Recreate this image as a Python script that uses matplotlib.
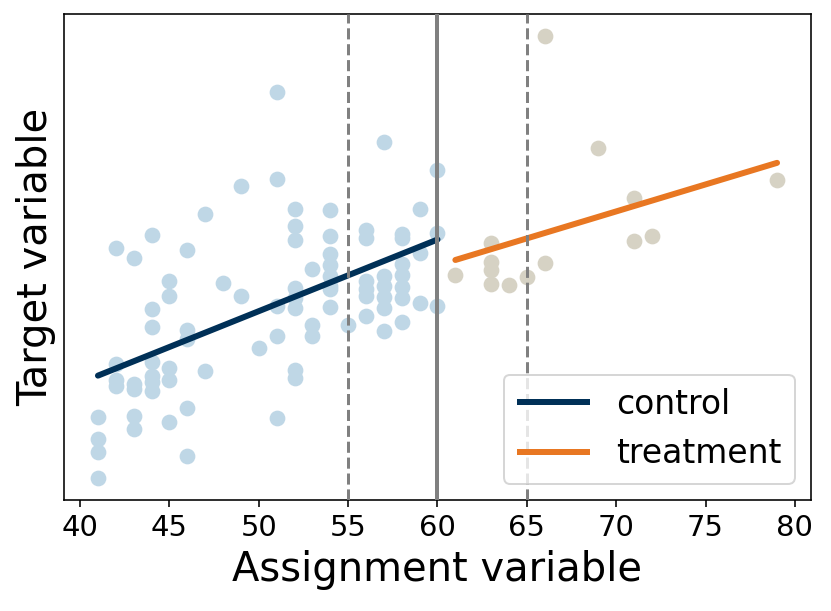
import numpy as np
import matplotlib
matplotlib.use("Agg")
import matplotlib.pyplot as plt

# ---- data (assignment variable x, target variable y) ----
control_x = [41, 41, 41, 41,
             42, 42, 42, 42,
             43, 43, 43, 43, 43,
             44, 44, 44, 44, 44, 44, 44,
             45, 45, 45, 45, 45,
             46, 46, 46, 46, 46,
             47, 47,
             48,
             49, 49,
             50,
             51, 51, 51, 51, 51,
             52, 52, 52, 52, 52, 52, 52, 52,
             53, 53, 53,
             54, 54, 54, 54, 54, 54, 54, 54,
             55,
             56, 56, 56, 56, 56, 56,
             57, 57, 57, 57, 57, 57,
             58, 58, 58, 58, 58, 58, 58,
             59, 59, 59,
             60, 60, 60]
control_y = [8.2, 6.0, 4.7, 2.1,
             25.0, 13.5, 11.9, 11.3,
             24.1, 11.5, 11.0, 8.3, 7.0,
             26.3, 19.0, 17.2, 13.7, 12.3, 11.7, 10.8,
             21.8, 20.3, 13.1, 11.9, 7.7,
             24.8, 16.9, 16.0, 9.1, 4.3,
             28.4, 12.8,
             21.6,
             31.2, 20.3,
             15.1,
             40.6, 31.9, 19.3, 16.3, 8.1,
             28.9, 27.2, 25.8, 21.1, 20.1, 19.1, 12.9, 12.1,
             23.0, 17.4, 16.3,
             28.8, 26.2, 24.4, 23.4, 22.3, 21.3, 21.0, 19.2,
             17.4,
             26.8, 26.0, 21.8, 21.0, 20.3, 18.3,
             35.6, 22.3, 21.3, 20.2, 19.1, 16.8,
             26.4, 26.0, 23.5, 22.4, 21.2, 20.1, 17.7,
             28.9, 24.5, 19.6,
             32.8, 26.5, 19.3]

treatment_x = [61, 63, 63, 63, 63, 64, 65, 66, 66, 69, 71, 71, 72, 79]
treatment_y = [22.4, 25.5, 23.7, 22.9, 21.5, 21.4, 22.2, 46.2, 23.6,
               35.0, 30.0, 25.7, 26.2, 31.8]

x_ticks = [40, 45, 50, 55, 60, 65, 70, 75, 80]
cutoff = 60
bandwidth = [55, 65]
x_label = "Assignment variable"
y_label = "Target variable"
legend_labels = ["control", "treatment"]

# ---- colours ----
c_ctrl_pts = "#bfd7e6"
c_treat_pts = "#d6d2c4"
c_ctrl_line = "#003057"
c_treat_line = "#e87722"

W, H, DPI = 831, 611, 144
fig = plt.figure(figsize=(W / DPI, H / DPI), dpi=DPI)
ax = fig.add_axes([64 / W, (H - 500) / H, (811 - 64) / W, (500 - 14) / H])

ax.scatter(control_x, control_y, s=62, color=c_ctrl_pts, linewidths=0, zorder=2)
ax.scatter(treatment_x, treatment_y, s=62, color=c_treat_pts, linewidths=0, zorder=2)

# linear fits
cx = np.array(control_x, dtype=float)
cy = np.array(control_y, dtype=float)
tx = np.array(treatment_x, dtype=float)
ty = np.array(treatment_y, dtype=float)
pc = np.polyfit(cx, cy, 1)
pt = np.polyfit(tx, ty, 1)
xc = np.array([cx.min(), cx.max()])
xt = np.array([tx.min(), tx.max()])
ax.plot(xc, np.polyval(pc, xc), color=c_ctrl_line, lw=3, solid_capstyle="round",
        label=legend_labels[0], zorder=3)
ax.plot(xt, np.polyval(pt, xt), color=c_treat_line, lw=3, solid_capstyle="round",
        label=legend_labels[1], zorder=3)

ax.axvline(cutoff, color="gray", lw=2, zorder=4)
for b in bandwidth:
    ax.axvline(b, color="gray", lw=1.5, ls="--", zorder=4)

ax.set_xticks(x_ticks)
ax.set_yticks([])
ax.tick_params(axis="x", labelsize=14.5)
ax.set_xlabel(x_label, fontsize=20)
ax.set_ylabel(y_label, fontsize=20)
leg = ax.legend(loc="lower right", fontsize=16.5, handlelength=2.2)
for h in leg.get_lines():
    h.set_solid_capstyle("butt")

fig.savefig("out.png", dpi=DPI)
